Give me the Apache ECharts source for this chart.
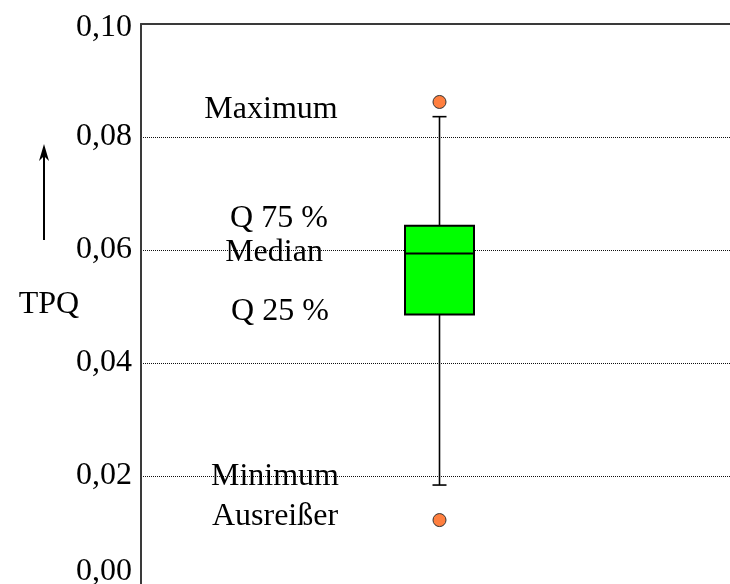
<!DOCTYPE html>
<html>
<head>
<meta charset="utf-8">
<style>
  html, body { margin: 0; padding: 0; background: #ffffff; overflow: hidden; }
  #chart { width: 738px; height: 590px; }
</style>
<script src="https://cdn.jsdelivr.net/npm/echarts@6/dist/echarts.min.js"></script>
</head>
<body>
<div id="chart"></div>
<script>
// Box plot of TPQ: one sample, five-number summary plus outliers
const categories = ['TPQ'];
// [min whisker, Q 25 %, median, Q 75 %, max whisker]
const boxStats = [[0.0184, 0.0486, 0.0594, 0.0643, 0.0836]];
// outliers: [category index, value]
const outliers = [[0, 0.0862], [0, 0.0122]];
// y axis ticks
const yMin = 0, yMax = 0.10, yStep = 0.02;
// annotation words shown next to the box
const annotations = ['Maximum', 'Q 75 %', 'Median', 'Q 25 %', 'Minimum', 'Ausreißer'];

const FONT = "'Liberation Serif', 'DejaVu Serif', 'Times New Roman', serif";
const FS = 32;
const chart = echarts.init(document.getElementById('chart'));

const boxData = boxStats.map((s, i) => [i].concat(s));

function fmt(v) {
  return v.toFixed(2).replace('.', ',');
}

// positions of the annotation words (left column beside the box)
const annoPos = [
  [271, 110], [279, 219], [274, 253], [280, 312], [275, 477], [275, 517]
];

option = {
  animation: false,
  backgroundColor: '#ffffff',
  grid: { left: 141, right: 0, top: 24, bottom: 1 },
  xAxis: {
    type: 'category',
    data: categories,
    position: 'top',
    boundaryGap: true,
    axisLine: { show: true, onZero: false, lineStyle: { color: '#3a3a3a', width: 2 } },
    axisTick: { show: false },
    axisLabel: { show: false },
    splitLine: { show: false }
  },
  yAxis: {
    type: 'value',
    min: yMin,
    max: yMax,
    interval: yStep,
    axisLine: { show: true, onZero: false, lineStyle: { color: '#3a3a3a', width: 2 } },
    axisTick: { show: false },
    axisLabel: {
      margin: 9,
      fontFamily: FONT,
      fontSize: FS,
      color: '#000',
      formatter: v => (v === 0 ? '{z|' + fmt(v) + '}' : (v >= yMax - 1e-9 ? '{t|' + fmt(v) + '}' : fmt(v))),
      rich: {
        z: { fontFamily: FONT, fontSize: FS, color: '#000', padding: [0, 0, 34, 0] },
        t: { fontFamily: FONT, fontSize: FS, color: '#000', padding: [8, 0, 0, 0] }
      }
    },
    splitLine: { show: true, lineStyle: { color: '#111', width: 1, type: [1, 1] } }
  },
  graphic: [
    {
      type: 'group',
      children: annotations.map((t, i) => ({
        type: 'text',
        x: annoPos[i][0],
        y: annoPos[i][1],
        style: {
          text: t,
          fontFamily: FONT,
          fontSize: FS,
          fill: '#000',
          align: 'center',
          verticalAlign: 'middle'
        },
        z: 100
      }))
    },
    {
      type: 'text',
      x: 49, y: 305,
      style: { text: 'TPQ', fontFamily: FONT, fontSize: FS, fill: '#000', align: 'center', verticalAlign: 'middle' }
    },
    {
      type: 'line',
      shape: { x1: 44, y1: 152, x2: 44, y2: 240 },
      style: { stroke: '#000', lineWidth: 2 }
    },
    {
      type: 'polygon',
      shape: { points: [[44, 144], [39, 161], [44, 156], [49, 161]] },
      style: { fill: '#000' }
    }
  ],
  series: [
    {
      type: 'custom',
      data: boxData,
      z: 5,
      renderItem: function (params, api) {
        const x = api.value(0);
        const pMin = api.coord([x, api.value(1)]);
        const pQ1 = api.coord([x, api.value(2)]);
        const pMed = api.coord([x, api.value(3)]);
        const pQ3 = api.coord([x, api.value(4)]);
        const pMax = api.coord([x, api.value(5)]);
        const cx = pMed[0];
        const hw = 34.5, cap = 7;
        const lineStyle = { stroke: '#000', lineWidth: 1.6 };
        return {
          type: 'group',
          children: [
            { type: 'line', shape: { x1: cx, y1: pMax[1], x2: cx, y2: pQ3[1] }, style: lineStyle },
            { type: 'line', shape: { x1: cx, y1: pQ1[1], x2: cx, y2: pMin[1] }, style: lineStyle },
            { type: 'line', shape: { x1: cx - cap, y1: pMax[1], x2: cx + cap, y2: pMax[1] }, style: lineStyle },
            { type: 'line', shape: { x1: cx - cap, y1: pMin[1], x2: cx + cap, y2: pMin[1] }, style: lineStyle },
            {
              type: 'rect',
              shape: { x: cx - hw, y: pQ3[1], width: hw * 2, height: pQ1[1] - pQ3[1] },
              style: { fill: '#00ff00', stroke: '#000', lineWidth: 2 }
            },
            { type: 'line', shape: { x1: cx - hw, y1: pMed[1], x2: cx + hw, y2: pMed[1] }, style: { stroke: '#000', lineWidth: 2 } }
          ]
        };
      }
    },
    {
      type: 'scatter',
      data: outliers,
      symbol: 'circle',
      symbolSize: 13,
      z: 6,
      itemStyle: { color: '#ff7f3f', borderColor: '#333', borderWidth: 1, opacity: 1 }
    }
  ]
};

chart.setOption(option);
</script>
</body>
</html>
